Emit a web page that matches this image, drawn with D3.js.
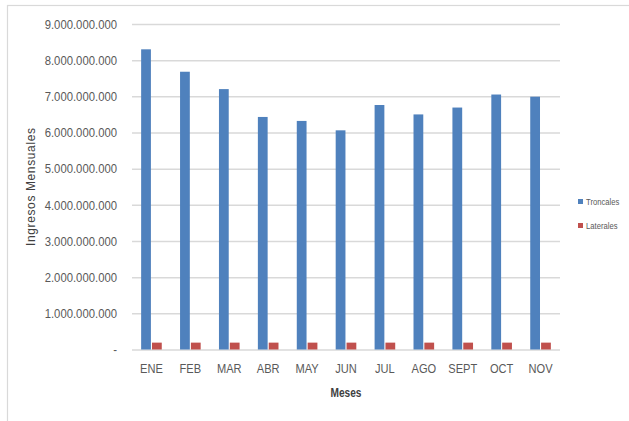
<!DOCTYPE html>
<html>
<head>
<meta charset="utf-8">
<script src="https://cdn.jsdelivr.net/npm/d3@7"></script>
<style>
  html, body { margin: 0; padding: 0; background: #fff; }
  svg { display: block; }
  .tick-y text { font-family: "Liberation Sans", Arial, sans-serif; font-size: 13px; fill: #595959; }
  .tick-x text { font-family: "Liberation Sans", Arial, sans-serif; font-size: 13.5px; fill: #595959; }
</style>
</head>
<body>
<div id="chart"></div>
<script>
// datos
const meses = ['ENE', 'FEB', 'MAR', 'ABR', 'MAY', 'JUN', 'JUL', 'AGO', 'SEPT', 'OCT', 'NOV'];
const series = ['Troncales', 'Laterales'];
const troncales = [8.30e9, 7.68e9, 7.20e9, 6.43e9, 6.32e9, 6.06e9, 6.76e9, 6.50e9, 6.69e9, 7.05e9, 6.99e9];
const laterales = [0.19e9, 0.19e9, 0.19e9, 0.19e9, 0.19e9, 0.19e9, 0.19e9, 0.19e9, 0.19e9, 0.19e9, 0.19e9];
const yTicks = [0, 1e9, 2e9, 3e9, 4e9, 5e9, 6e9, 7e9, 8e9, 9e9];

const colores = { Troncales: '#4F81BD', Laterales: '#C0504D' };

const W = 629, H = 421;
const plot = { left: 132, right: 560, top: 24, bottom: 349.5 };

// estrecha el texto (imitando Calibri) sin cambiar el alto
function condensar(sel, factor) {
  sel.each(function() {
    const w = this.getComputedTextLength();
    d3.select(this).attr('textLength', w * factor).attr('lengthAdjust', 'spacingAndGlyphs');
  });
}

const svg = d3.select('#chart').append('svg')
  .attr('width', W)
  .attr('height', H);

// borde del área del gráfico
svg.append('rect')
  .attr('x', 7.5).attr('y', 5.5)
  .attr('width', 700).attr('height', 500)
  .attr('fill', 'none')
  .attr('stroke', '#d9d9d9')
  .attr('stroke-width', 1.2);

const x0 = d3.scaleBand().domain(meses).range([plot.left, plot.right]).padding(0);
const groupW = x0.step() * 0.53;
const x1 = d3.scaleBand().domain(series).range([0, groupW]).paddingInner(0.1);
const y = d3.scaleLinear().domain([0, 9e9]).range([plot.bottom, plot.top]);

const fmt = v => v === 0 ? '-' : d3.format(',')(v).replace(/,/g, '.');

// líneas de cuadrícula + etiquetas Y
const yAxis = svg.append('g')
  .attr('class', 'tick-y')
  .attr('transform', `translate(${plot.left},0)`)
  .call(d3.axisLeft(y).tickValues(yTicks).tickFormat(fmt)
    .tickSize(-(plot.right - plot.left)).tickPadding(15));
yAxis.select('.domain').remove();
yAxis.selectAll('line').attr('stroke', '#d9d9d9').attr('stroke-width', 1.5);
condensar(yAxis.selectAll('text'), 0.87);

// barras
const data = meses.map((m, i) => ({ mes: m, Troncales: troncales[i], Laterales: laterales[i] }));
const grupos = svg.append('g').selectAll('g')
  .data(data)
  .join('g')
  .attr('transform', d => `translate(${x0(d.mes) + (x0.step() - groupW) / 2},0)`);

grupos.selectAll('rect')
  .data(d => series.map(s => ({ s, v: d[s] })))
  .join('rect')
  .attr('x', d => x1(d.s))
  .attr('y', d => y(d.v))
  .attr('width', x1.bandwidth())
  .attr('height', d => y(0) - y(d.v))
  .attr('fill', d => colores[d.s]);

// eje X
const xAxis = svg.append('g')
  .attr('class', 'tick-x')
  .attr('transform', `translate(0,${plot.bottom})`)
  .call(d3.axisBottom(x0).tickSize(0).tickPadding(14));
xAxis.select('.domain').remove();
condensar(xAxis.selectAll('text'), 0.82);

// títulos
svg.append('text')
  .attr('x', (plot.left + plot.right) / 2)
  .attr('y', 397)
  .attr('text-anchor', 'middle')
  .style('font-family', '"Liberation Sans", Arial, sans-serif')
  .style('font-size', '13px')
  .style('font-weight', 'bold')
  .style('fill', '#404040')
  .text('Meses')
  .call(condensar, 0.78);

svg.append('text')
  .attr('transform', 'translate(35,187) rotate(-90)')
  .attr('text-anchor', 'middle')
  .style('font-family', '"Liberation Sans", Arial, sans-serif')
  .style('font-size', '12px')
  .style('fill', '#404040')
  .attr('textLength', 118)
  .attr('lengthAdjust', 'spacing')
  .text('Ingresos Mensuales');

// leyenda
const leyenda = svg.append('g').selectAll('g')
  .data(series)
  .join('g')
  .attr('transform', (d, i) => `translate(578,${199 + i * 24})`);

leyenda.append('rect')
  .attr('width', 5).attr('height', 5)
  .attr('fill', d => colores[d]);

leyenda.append('text')
  .attr('x', 8).attr('y', 5.5)
  .style('font-family', '"Liberation Sans", Arial, sans-serif')
  .style('font-size', '9px')
  .style('fill', '#595959')
  .text(d => d)
  .call(condensar, 0.85);
</script>
</body>
</html>
